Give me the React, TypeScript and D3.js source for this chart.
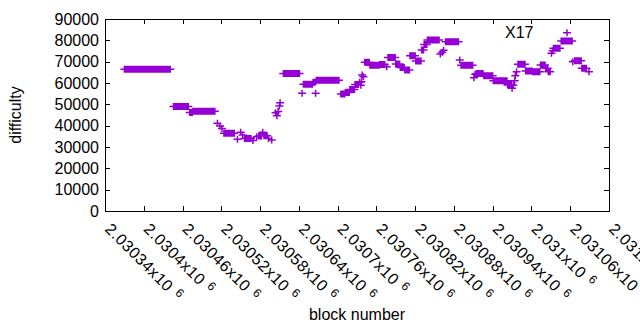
import React from 'react';
import * as d3 from 'd3';

// runs of consecutive blocks sharing a difficulty (start, end inclusive)
const runStart = [
  2030370, 2030446, 2030471, 2030476, 2030514, 2030518, 2030521, 2030524, 2030545, 2030550,
  2030553, 2030556, 2030569, 2030575, 2030578, 2030584, 2030586, 2030593, 2030598, 2030604,
  2030606, 2030608, 2030610, 2030611, 2030616, 2030645, 2030647, 2030662, 2030666, 2030667,
  2030705, 2030712, 2030719, 2030727, 2030734, 2030736, 2030737, 2030738, 2030740, 2030742,
  2030750, 2030765, 2030776, 2030778, 2030790, 2030797, 2030804, 2030812, 2030821, 2030830,
  2030834, 2030839, 2030859, 2030862, 2030864, 2030867, 2030889, 2030891, 2030911, 2030913,
  2030915, 2030926, 2030941, 2030963, 2030970, 2030972, 2030974, 2030975, 2030977, 2030979,
  2030991, 2031002, 2031014, 2031022, 2031026, 2031031, 2031033, 2031034, 2031046, 2031055,
  2031056, 2031064, 2031067, 2031078, 2031089,
];
const runEnd = [
  2030441, 2030469, 2030475, 2030510, 2030514, 2030518, 2030521, 2030540, 2030545, 2030550,
  2030553, 2030566, 2030569, 2030575, 2030582, 2030584, 2030591, 2030593, 2030598, 2030604,
  2030606, 2030608, 2030610, 2030611, 2030641, 2030645, 2030661, 2030665, 2030666, 2030702,
  2030711, 2030718, 2030726, 2030732, 2030734, 2030736, 2030737, 2030738, 2030740, 2030749,
  2030764, 2030773, 2030776, 2030789, 2030796, 2030803, 2030811, 2030820, 2030829, 2030833,
  2030838, 2030857, 2030859, 2030862, 2030864, 2030887, 2030889, 2030909, 2030911, 2030913,
  2030925, 2030940, 2030962, 2030969, 2030970, 2030972, 2030974, 2030975, 2030977, 2030990,
  2031001, 2031013, 2031021, 2031025, 2031029, 2031031, 2031033, 2031044, 2031054, 2031055,
  2031063, 2031064, 2031077, 2031085, 2031089,
];
const runDifficulty = [
  66400, 49000, 46200, 46800, 41100, 39800, 38700, 36400, 33600, 36900,
  35600, 34000, 33000, 34800, 35200, 36900, 35300, 34000, 33300, 46000,
  44600, 46600, 49200, 50800, 64500, 55200, 59400, 60300, 55200, 61300,
  54800, 55600, 57000, 59300, 60300, 59000, 60600, 63700, 62900, 69700,
  68300, 68700, 67600, 72000, 68900, 67300, 66100, 72800, 70300, 75500,
  78100, 80200, 73600, 74400, 75400, 79300, 70800, 68300, 62500, 64100,
  64500, 63400, 61100, 59100, 57500, 59000, 61000, 63400, 65300, 68800,
  65600, 65300, 68400, 66900, 65300, 73900, 75100, 76250, 79700, 83600,
  79700, 70000, 70400, 66900, 65300,
];

const xTicks = d3.range(2030340, 2031121, 60);
const yTicks = d3.range(0, 90001, 10000);

const W = 640;
const H = 330;
const margin = { top: 19, right: 31, bottom: 119, left: 105 };
const purple = '#9400d3';
const font = '"Liberation Sans", Arial, sans-serif';

export default function App() {
  const x = d3.scaleLinear().domain([2030340, 2031120]).range([margin.left, W - margin.right]);
  const y = d3.scaleLinear().domain([0, 90000]).range([H - margin.bottom, margin.top]);

  const points: { b: number; d: number }[] = [];
  runStart.forEach((s, i) => {
    for (let b = s; b <= runEnd[i]; b++) points.push({ b, d: runDifficulty[i] });
  });

  const x0 = margin.left;
  const x1 = W - margin.right;
  const y0 = H - margin.bottom;
  const y1 = margin.top;
  const tick = 5;

  // gnuplot-style "+" marker for every block
  const markers = points
    .map(p => {
      const px = x(p.b);
      const py = y(p.d);
      return `M${px - 4},${py}h8M${px},${py - 3.5}v7`;
    })
    .join('');

  return (
    <svg width={W} height={H} style={{ position: 'fixed', left: 0, top: 0, background: '#fff' }}>
      <rect width={W} height={H} fill="#fff" />
      <g stroke="#000" strokeWidth={1} shapeRendering="crispEdges">
        <rect x={x0 + 0.5} y={y1 + 0.5} width={x1 - x0} height={y0 - y1} fill="none" />
        {yTicks.map(t => (
          <g key={'y' + t}>
            <line x1={x0} x2={x0 + tick} y1={Math.round(y(t)) + 0.5} y2={Math.round(y(t)) + 0.5} />
            <line x1={x1} x2={x1 - tick} y1={Math.round(y(t)) + 0.5} y2={Math.round(y(t)) + 0.5} />
          </g>
        ))}
        {xTicks.map(t => (
          <g key={'x' + t}>
            <line x1={Math.round(x(t)) + 0.5} x2={Math.round(x(t)) + 0.5} y1={y0} y2={y0 - tick} />
            <line x1={Math.round(x(t)) + 0.5} x2={Math.round(x(t)) + 0.5} y1={y1} y2={y1 + tick} />
          </g>
        ))}
      </g>
      <path d={markers} stroke={purple} strokeWidth={1.5} fill="none" />
      <g fontFamily={font} fontSize={16} fill="#000">
        {yTicks.map(t => (
          <text key={'yl' + t} x={x0 - 6} y={y(t)} textAnchor="end" dominantBaseline="central">
            {t}
          </text>
        ))}
        {xTicks.map(t => (
          <text
            key={'xl' + t}
            transform={`translate(${x(t) - 1},${y0 + 19}) rotate(45)`}
            textAnchor="start"
            letterSpacing={0.5}
          >
            {String(+(t / 1e6).toFixed(5)) + 'x10'}
            <tspan fontSize={12} dx={6} dy={-5}>6</tspan>
          </text>
        ))}
        <text x={x0 + (x1 - x0) / 2} y={320} textAnchor="middle">
          block number
        </text>
        <text transform={`translate(21,${(y0 + y1) / 2}) rotate(-90)`} textAnchor="middle">
          difficulty
        </text>
        <text x={505} y={38}>X17</text>
      </g>
    </svg>
  );
}
